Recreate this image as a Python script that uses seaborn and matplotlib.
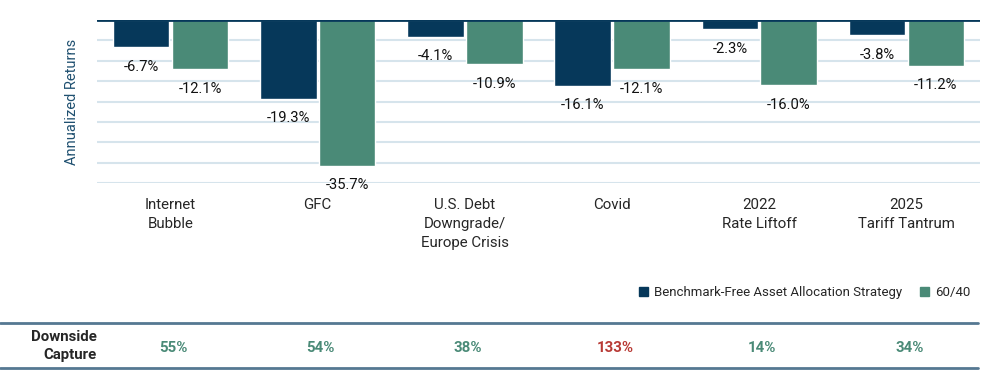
import pandas as pd
import matplotlib
matplotlib.use('Agg')
import matplotlib.pyplot as plt
import matplotlib.transforms as mtransforms
from matplotlib.patches import Patch
import seaborn as sns

# chart data
events = ['Internet\nBubble', 'GFC', 'U.S. Debt\nDowngrade/\nEurope Crisis', 'Covid',
          '2022\nRate Liftoff', '2025\nTariff Tantrum']
strategy = [-6.7, -19.3, -4.1, -16.1, -2.3, -3.8]
sixty_forty = [-12.1, -35.7, -10.9, -12.1, -16.0, -11.2]
series_names = ['Benchmark-Free Asset Allocation Strategy', '60/40']
downside_capture = ['55%', '54%', '38%', '133%', '14%', '34%']

navy = '#06385a'
green = '#4a8a77'
red = '#b83a35'
steel = '#557892'

sns.set_style('white')
plt.rcParams['font.family'] = ['Roboto', 'DejaVu Sans']

df = pd.DataFrame({
    'Event': events * 2,
    'Return': strategy + sixty_forty,
    'Series': [series_names[0]] * 6 + [series_names[1]] * 6,
})

fig = plt.figure(figsize=(10, 3.76), dpi=100)
ax = fig.add_axes([0.097, 0.5125, 0.883, 0.4345])

sns.barplot(data=df, x='Event', y='Return', hue='Series', order=events,
            hue_order=series_names, palette=[navy, green], width=0.8, gap=0.04,
            saturation=1, legend=False, ax=ax)

ax.set_ylim(-40, 0)
ax.set_xlim(-0.5, 5.5)
ax.set_yticks(range(-40, 0, 5))
ax.yaxis.grid(True, color='#d6e4ec', linewidth=1.5)
ax.set_axisbelow(True)
ax.tick_params(axis='y', left=False, labelleft=False)
ax.tick_params(axis='x', bottom=False, pad=7, labelsize=10.8)
for lbl in ax.get_xticklabels():
    lbl.set_linespacing(1.45)
for s in ax.spines.values():
    s.set_visible(False)
ax.axhline(0, color=navy, linewidth=2, zorder=5)
ax.set_xlabel('')
ax.set_ylabel('Annualized Returns', color='#1f5070', fontsize=10.5, labelpad=13)

# value labels under bars
for cont in ax.containers:
    for bar in cont:
        h = bar.get_height()
        ax.annotate(f'{h:.1f}%', (bar.get_x() + bar.get_width() / 2, h),
                    xytext=(0, -9), textcoords='offset points',
                    ha='center', va='top', fontsize=10.6, color='#111111')

# legend
handles = [Patch(color=navy), Patch(color=green)]
fig.legend(handles, series_names, loc='center right', bbox_to_anchor=(0.982, 0.221),
           ncol=2, frameon=False, fontsize=9.5, handlelength=0.7, handleheight=0.7,
           handletextpad=0.4, columnspacing=1.4)

# downside capture table
fig.add_artist(plt.Line2D([0, 0.978], [1 - 322.5 / 376] * 2, color=steel, lw=2))
fig.add_artist(plt.Line2D([0, 0.978], [1 - 367.5 / 376] * 2, color=steel, lw=2))
fig.text(0.097, 1 - 346 / 376, 'Downside\nCapture', ha='right', va='center',
         fontsize=10.8, fontweight='bold', linespacing=1.4)
trans = mtransforms.blended_transform_factory(ax.transData, fig.transFigure)
for i, val in enumerate(downside_capture):
    col = red if val == '133%' else green
    ax.text(i + 0.02, 1 - 348 / 376, val, transform=trans, ha='center', va='center',
            fontsize=10.8, fontweight='bold', color=col)

fig.savefig('out.png', dpi=100)
